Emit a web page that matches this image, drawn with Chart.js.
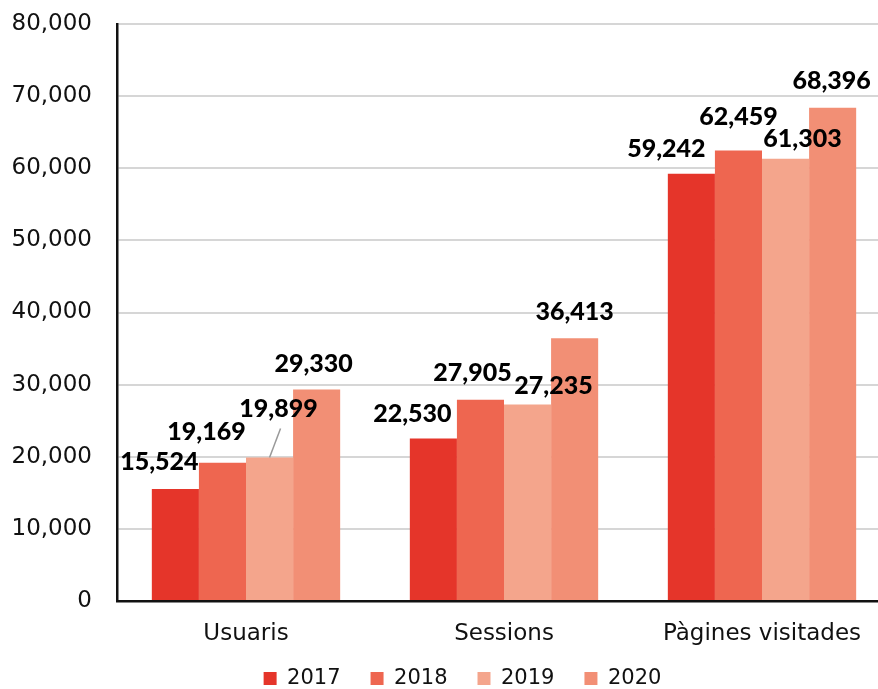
<!DOCTYPE html>
<html>
<head>
<meta charset="utf-8">
<script src="https://cdn.jsdelivr.net/npm/chart.js@4/dist/chart.umd.min.js"></script>
<style>
  html, body { margin: 0; padding: 0; background: #fff; overflow: hidden; }
  #wrap { width: 891px; height: 689px; }
</style>
</head>
<body>
<div id="wrap"><canvas id="visitsChart"></canvas></div>
<script>
const categories = ['Usuaris', 'Sessions', 'Pàgines visitades'];
const years = ['2017', '2018', '2019', '2020'];
const values2017 = [15524, 22530, 59242];
const values2018 = [19169, 27905, 62459];
const values2019 = [19899, 27235, 61303];
const values2020 = [29330, 36413, 68396];
const yearColors = ['#e5352a', '#ee6650', '#f4a58c', '#f28f75'];

// nudges [dx, dy] for each value label, relative to the top centre of its bar
const labelShift = [
  [[-16, -27], [-21, -25], [-25, -25]],
  [[-16, -31], [-8, -27], [0, -34]],
  [[9, -49], [26, -19], [17, -20]],
  [[-3, -26], [0, -26], [-1, -27]]
];

const valueLabels = {
  id: 'valueLabels',
  afterDatasetsDraw(chart) {
    const ctx = chart.ctx;
    ctx.save();
    ctx.font = '900 25px Lato';
    ctx.fillStyle = '#000';
    ctx.textAlign = 'center';
    ctx.textBaseline = 'middle';
    chart.data.datasets.forEach((ds, i) => {
      chart.getDatasetMeta(i).data.forEach((bar, j) => {
        const [dx, dy] = labelShift[i][j];
        // small leader line for the label pushed away from its bar
        if (i === 2 && j === 0) {
          ctx.strokeStyle = '#999';
          ctx.lineWidth = 1.5;
          ctx.beginPath();
          ctx.moveTo(bar.x + dx + 2, bar.y + dy + 20);
          ctx.lineTo(bar.x, bar.y);
          ctx.stroke();
        }
        ctx.fillText(ds.data[j].toLocaleString('en-US'), bar.x + dx, bar.y + dy);
      });
    });
    ctx.restore();
  }
};

// legend sits a bit right of the canvas centre and just above the bottom edge
const legendPlace = {
  id: 'legendPlace',
  afterLayout(chart) {
    const lg = chart.legend;
    lg.left += 17;
    lg.right += 17;
    const h = lg.bottom - lg.top;
    lg.top = 638;
    lg.bottom = lg.top + h;
  }
};

const axisFont = { family: 'DejaVu Sans', size: 23 };

const ctx = document.getElementById('visitsChart').getContext('2d');
new Chart(ctx, {
  type: 'bar',
  data: {
    labels: categories,
    datasets: [values2017, values2018, values2019, values2020].map((vals, i) => ({
      label: years[i],
      data: vals,
      backgroundColor: yearColors[i],
      categoryPercentage: 0.73,
      barPercentage: 1
    }))
  },
  options: {
    responsive: true,
    maintainAspectRatio: false,
    animation: false,
    layout: { padding: { left: 0, top: 24, right: 0, bottom: -19 } },
    plugins: {
      tooltip: { enabled: false },
      legend: {
        position: 'bottom',
        labels: {
          boxWidth: 13,
          boxHeight: 13,
          padding: 30,
          color: '#111',
          font: { family: 'DejaVu Sans', size: 21 }
        }
      }
    },
    scales: {
      x: {
        grid: { display: false, drawTicks: false },
        border: { color: '#111', width: 2.5 },
        ticks: { color: '#111', padding: 19, font: axisFont },
        afterFit(scale) { scale.height = 46; }
      },
      y: {
        min: 0,
        max: 80000,
        grid: { color: '#d6d6d6', lineWidth: 2, drawTicks: false },
        border: { color: '#111', width: 2.5 },
        ticks: {
          stepSize: 10000,
          color: '#111',
          padding: 25,
          font: axisFont,
          callback: v => v.toLocaleString('en-US')
        },
        afterFit(scale) {
          scale.width = 117;
          scale.paddingTop = 0;
        }
      }
    }
  },
  plugins: [valueLabels, legendPlace]
});
</script>
</body>
</html>
